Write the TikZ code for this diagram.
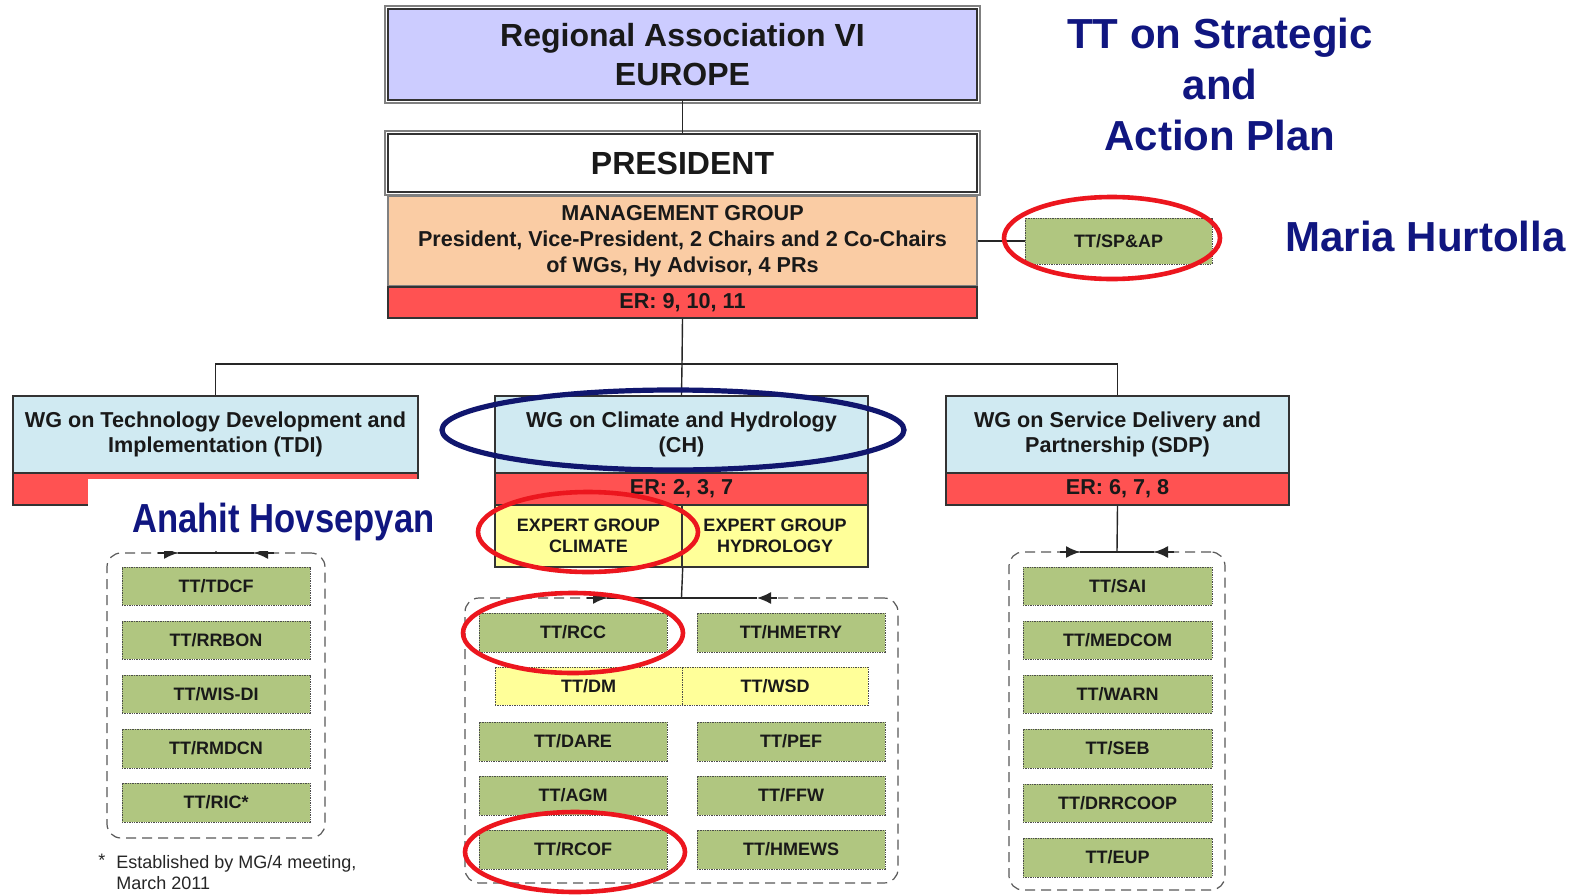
\documentclass[tikz,border=0pt]{standalone}
\usepackage{fontspec}
\setmainfont{Liberation Sans}
\usetikzlibrary{arrows.meta}
\definecolor{lav}{RGB}{204,204,255}
\definecolor{peach}{RGB}{250,204,164}
\definecolor{erred}{RGB}{255,82,82}
\definecolor{wgblue}{RGB}{208,234,242}
\definecolor{ttgreen}{RGB}{176,198,128}
\definecolor{egyellow}{RGB}{255,255,153}
\definecolor{namenavy}{RGB}{16,22,128}
\definecolor{ellred}{RGB}{236,22,30}
\definecolor{ellblue}{RGB}{16,22,110}
\tikzset{
  box/.style={draw=black!80, line width=0.7pt, inner sep=0pt, align=center, text=black!90},
  bigbox/.style={box, font=\fontsize{16pt}{19.5pt}\selectfont\bfseries},
  mgbox/.style={box, fill=peach, draw=black!50, font=\fontsize{10.8pt}{13pt}\selectfont\bfseries},
  erbox/.style={box, fill=erred, font=\fontsize{10.8pt}{13pt}\selectfont\bfseries},
  wgbox/.style={box, fill=wgblue, font=\fontsize{10.8pt}{12.5pt}\selectfont\bfseries},
  egbox/.style={box, fill=egyellow, font=\fontsize{9pt}{10.5pt}\selectfont\bfseries},
  ttbox/.style={box, fill=ttgreen, draw=black!70, line width=0.5pt, dash pattern=on 0.7pt off 0.5pt, font=\fontsize{9pt}{10pt}\selectfont\bfseries},
  dmbox/.style={ttbox, fill=egyellow},
  contbox/.style={draw=black!65, line width=0.6pt, dash pattern=on 5pt off 3pt, rounded corners=7pt, inner sep=0pt},
  conn/.style={draw=black!85, line width=0.7pt},
  tip/.style={conn, -{Latex[length=7pt,width=6pt]}},
  ellr/.style={draw=ellred, line width=2.3pt},
  ellb/.style={draw=ellblue, line width=2.6pt},
  bluename/.style={text=namenavy, font=\fontsize{21pt}{25.5pt}\selectfont\bfseries, align=center, inner sep=0pt},
}
\newcommand{\bx}[7]{\node[#6, minimum width={(#4-#2)*0.5pt}, minimum height={(#5-#3)*0.5pt}] (#1) at ({(#2+#4)/2},{(#3+#5)/2}) {#7};}
\begin{document}
\begin{tikzpicture}[x=0.5pt,y=-0.5pt]
\useasboundingbox (0,0) rectangle (1579,894);
\clip (0,0) rectangle (1579,894);
\fill[white] (0,0) rectangle (1579,894);

% top hierarchy
\draw[gray, line width=0.6pt] (385,6) rectangle (980,103);
\bx{ra}{388}{9}{977}{100}{bigbox,fill=lav}{Regional Association VI\\EUROPE}
\draw[gray, line width=0.6pt] (385,131) rectangle (980,195);
\bx{pres}{388}{134}{977}{192}{bigbox,fill=white}{PRESIDENT}
\bx{mg}{388}{196}{977}{286}{mgbox}{MANAGEMENT GROUP\\President, Vice-President, 2 Chairs and 2 Co-Chairs\\of WGs, Hy Advisor, 4 PRs}
\bx{er}{388}{287}{977}{318}{erbox}{ER: 9, 10, 11}
\bx{sp}{1025}{218}{1212}{264}{ttbox}{TT/SP\&AP}

% working groups
\bx{tdi}{13}{396}{418}{473}{wgbox}{WG on Technology Development and\\Implementation (TDI)}
\bx{tdier}{13}{473}{418}{505}{erbox}{}
\bx{ch}{495}{396}{868}{473}{wgbox}{WG on Climate and Hydrology\\(CH)}
\bx{cher}{495}{473}{868}{505}{erbox}{ER: 2, 3, 7}
\bx{egc}{495}{505}{682}{567}{egbox}{EXPERT GROUP\\CLIMATE}
\bx{egh}{682}{505}{868}{567}{egbox}{EXPERT GROUP\\HYDROLOGY}
\bx{sdp}{946}{396}{1289}{473}{wgbox}{WG on Service Delivery and\\Partnership (SDP)}
\bx{sdper}{946}{473}{1289}{505}{erbox}{ER: 6, 7, 8}

% containers
\bx{lc}{107}{553}{325}{838}{contbox}{}
\bx{mc}{465}{598}{898}{883}{contbox}{}
\bx{rc}{1009}{552}{1225}{890}{contbox}{}

% left task teams
\bx{tdcf}{122}{567}{310}{605}{ttbox}{TT/TDCF}
\bx{rrbon}{122}{621}{310}{659}{ttbox}{TT/RRBON}
\bx{wisdi}{122}{675}{310}{713}{ttbox}{TT/WIS-DI}
\bx{rmdcn}{122}{729}{310}{768}{ttbox}{TT/RMDCN}
\bx{ric}{122}{783}{310}{822}{ttbox}{TT/RIC*}

% middle task teams
\bx{rcc}{479}{613}{667}{652}{ttbox}{TT/RCC}
\bx{hmetry}{697}{613}{885}{652}{ttbox}{TT/HMETRY}
\bx{dm}{495}{667}{682}{705}{dmbox}{TT/DM}
\bx{wsd}{682}{667}{868}{705}{dmbox}{TT/WSD}
\bx{dare}{479}{722}{667}{761}{ttbox}{TT/DARE}
\bx{pef}{697}{722}{885}{761}{ttbox}{TT/PEF}
\bx{agm}{479}{776}{667}{815}{ttbox}{TT/AGM}
\bx{ffw}{697}{776}{885}{815}{ttbox}{TT/FFW}
\bx{rcof}{479}{830}{667}{869}{ttbox}{TT/RCOF}
\bx{hmews}{697}{830}{885}{869}{ttbox}{TT/HMEWS}

% right task teams
\bx{sai}{1023}{567}{1212}{605}{ttbox}{TT/SAI}
\bx{medcom}{1023}{621}{1212}{659}{ttbox}{TT/MEDCOM}
\bx{warn}{1023}{675}{1212}{713}{ttbox}{TT/WARN}
\bx{seb}{1023}{729}{1212}{768}{ttbox}{TT/SEB}
\bx{drr}{1023}{784}{1212}{822}{ttbox}{TT/DRRCOOP}
\bx{eup}{1023}{838}{1212}{877}{ttbox}{TT/EUP}

% connectors
\coordinate (bus) at (682,364);
\draw[conn] (ra.south) -- (pres.north);
\draw[conn] (er.south) -- (bus);
\draw[conn] (tdi.north) |- (bus) -| (sdp.north);
\draw[conn] (bus) -- (ch.north);
\draw[conn] (mg.east) -- (sp.west);
\draw[conn] (tdier.south) -- (lc.north);
\draw[conn] (egc.south east) -- (mc.north);
\draw[conn] (sdper.south) -- (rc.north);

% container arrows
\coordinate (lA) at (178,553); \coordinate (lB) at (254,553);
\draw[conn] (lA) -- (lB);
\draw[tip] (158,553) -- (lA); \draw[tip] (274,553) -- (lB);
\coordinate (mA) at (607,598); \coordinate (mB) at (757,598);
\draw[conn] (mA) -- (mB);
\draw[tip] (587,598) -- (mA); \draw[tip] (777,598) -- (mB);
\coordinate (rA) at (1080,552); \coordinate (rB) at (1154,552);
\draw[conn] (rA) -- (rB);
\draw[tip] (1060,552) -- (rA); \draw[tip] (1174,552) -- (rB);

% white patch and name
\fill[white] (88,479) rectangle (450,551);
\node[anchor=base west, text=namenavy, font=\fontsize{20.3pt}{24pt}\selectfont\bfseries, inner sep=0pt] (anahit) at (132,532) {\scalebox{0.853}[1]{Anahit Hovsepyan}};

% annotations
\draw[ellb] (673,430) ellipse [x radius=115.5pt, y radius=20pt];
\draw[ellr] (588,532) ellipse [x radius=55pt, y radius=20pt];
\draw[ellr] (573,633) ellipse [x radius=55pt, y radius=20pt];
\draw[ellr] (575,852) ellipse [x radius=55pt, y radius=20pt];
\draw[ellr] (1112,238) ellipse [x radius=54pt, y radius=20.5pt];

\node[bluename] (ttsap) at (1220,84) {TT on Strategic\\and\\Action Plan};
\node[bluename, anchor=base west] (maria) at (1285,251) {Maria Hurtolla};

% footnote
\node[anchor=base west, font=\fontsize{9pt}{11pt}\selectfont, text=black!85, inner sep=0pt] (fn0) at (98,866) {*};
\node[anchor=base west, font=\fontsize{9pt}{11pt}\selectfont, text=black!85, inner sep=0pt] (fn1) at (116,868) {Established by MG/4 meeting,};
\node[anchor=base west, font=\fontsize{9pt}{11pt}\selectfont, text=black!85, inner sep=0pt] (fn2) at (116,889) {March 2011};
\end{tikzpicture}
\end{document}
